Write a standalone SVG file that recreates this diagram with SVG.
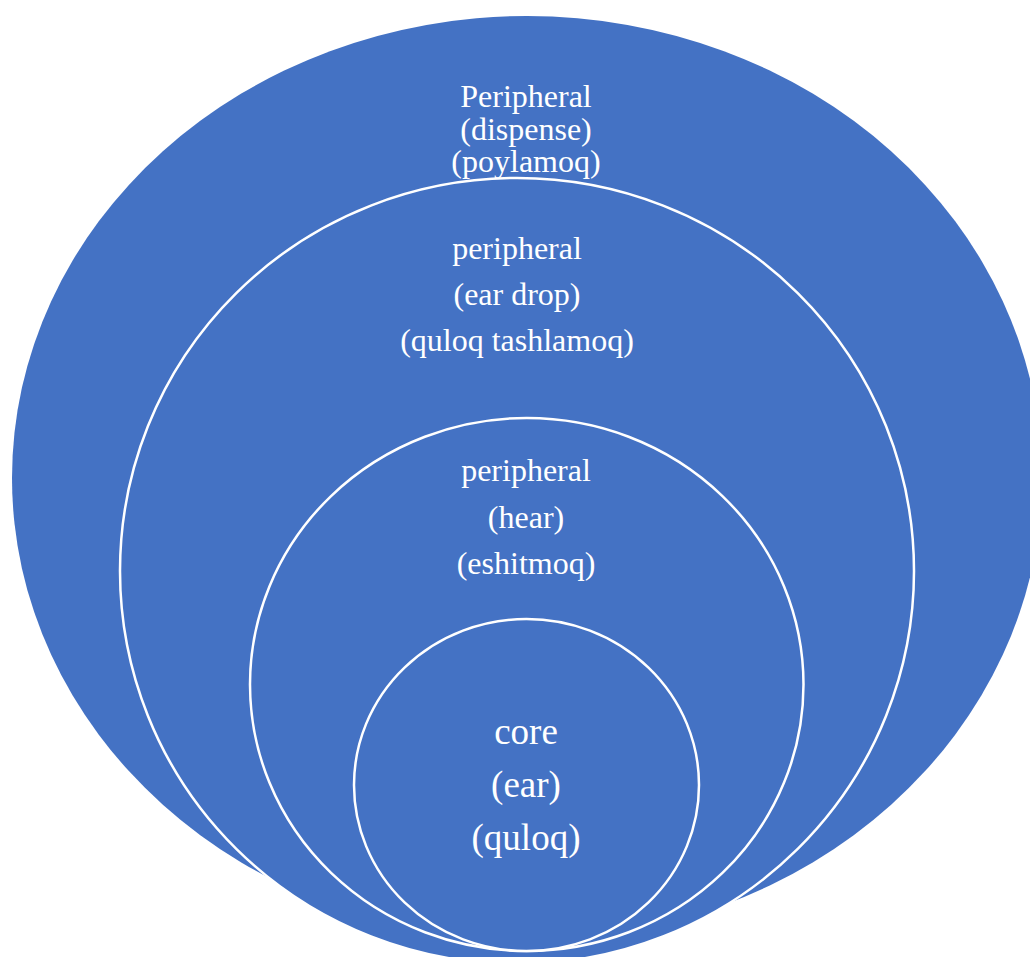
<svg xmlns="http://www.w3.org/2000/svg" width="1030" height="957" viewBox="0 0 1030 957">
<style>
.ring{fill:#4472C4;stroke:#FFFFFF;stroke-width:2.5}
.lbl{font-family:"Liberation Serif","Times New Roman",serif;fill:#FFFFFF;text-anchor:middle;font-size:32px}
.big{font-size:37px}
</style>
<rect width="1030" height="957" fill="#FFFFFF"/>
<g id="node-outer">
<ellipse cx="527" cy="478" rx="515" ry="462" fill="#4472C4"/>
<text class="lbl" x="526" y="107">Peripheral</text>
<text class="lbl" x="526" y="140">(dispense)</text>
<text class="lbl" x="526" y="172">(poylamoq)</text>
</g>
<g id="node-eardrop">
<ellipse class="ring" cx="517" cy="571" rx="397" ry="393"/>
<text class="lbl" x="517" y="259">peripheral</text>
<text class="lbl" x="517" y="305">(ear drop)</text>
<text class="lbl" x="517" y="351">(quloq tashlamoq)</text>
</g>
<g id="node-hear">
<ellipse class="ring" cx="526.75" cy="684.5" rx="276.75" ry="266.5"/>
<text class="lbl" x="526" y="481">peripheral</text>
<text class="lbl" x="526" y="528">(hear)</text>
<text class="lbl" x="526" y="574">(eshitmoq)</text>
</g>
<g id="node-core">
<ellipse class="ring" cx="526.5" cy="785" rx="172.5" ry="166"/>
<text class="lbl big" x="526" y="744">core</text>
<text class="lbl big" x="526" y="797">(ear)</text>
<text class="lbl big" x="526" y="850">(quloq)</text>
</g>
<g id="connectors"></g>
</svg>
